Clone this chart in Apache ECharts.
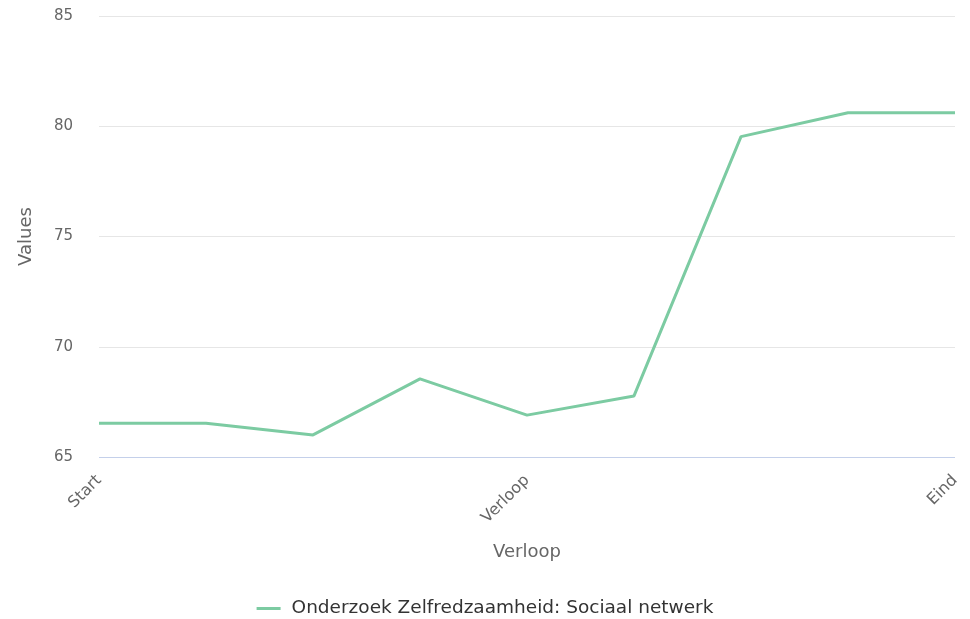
<!DOCTYPE html>
<html>
<head>
<meta charset="utf-8">
<script src="https://cdn.jsdelivr.net/npm/echarts@6/dist/echarts.min.js"></script>
<style>
    html, body {margin: 0; padding: 0; background: #fff;}
    #chart {width: 970px; height: 619px;}
</style>
</head>
<body>
<div id="chart"></div>
<script>
const categories = ['Start', '', '', '', 'Verloop', '', '', '', 'Eind'];
const series_name = 'Onderzoek Zelfredzaamheid: Sociaal netwerk';
const series_values = [66.53, 66.53, 66.0, 68.54, 66.9, 67.77, 79.53, 80.61, 80.61];
const y_ticks = {min: 65, max: 85, interval: 5};

const font = "'DejaVu Sans', Verdana, sans-serif";

let option = {
    animation: false,
    grid: {left: 99, right: 15, top: 16, bottom: 162},
    legend: {
        top: 594, left: 'center',
        icon: 'path://M0,0 L24,0 L24,3 L0,3 Z',
        itemWidth: 26, itemHeight: 3, itemGap: 8,
        textStyle: {fontFamily: font, fontSize: 18.5, color: '#333', padding: [0, 0, 0, 5]},
        data: [series_name]
    },
    xAxis: {
        type: 'category', data: categories, boundaryGap: false,
        name: 'Verloop', nameLocation: 'middle', nameGap: 86,
        nameTextStyle: {fontFamily: font, fontSize: 18, color: '#666'},
        axisLine: {show: false},
        axisTick: {show: false},
        axisLabel: {
            interval: 0, rotate: 45, margin: 21,
            fontFamily: font, fontSize: 16, color: '#666'
        },
        splitLine: {show: false}
    },
    yAxis: {
        type: 'value', min: y_ticks.min, max: y_ticks.max, interval: y_ticks.interval,
        name: 'Values', nameLocation: 'middle', nameGap: 64,
        nameTextStyle: {fontFamily: font, fontSize: 18, color: '#666'},
        axisLine: {show: false}, axisTick: {show: false},
        axisLabel: {margin: 26, fontFamily: font, fontSize: 15, color: '#666'},
        splitLine: {lineStyle: {color: ['#c4d0ea', '#e6e6e6', '#e6e6e6', '#e6e6e6', '#e6e6e6'], width: 1}}
    },
    series: [{
        name: series_name, type: 'line', data: series_values,
        symbol: 'none', smooth: false,
        lineStyle: {color: '#7ccba2', width: 3},
        itemStyle: {color: '#7ccba2'}
    }]
};

let my_chart = echarts.init(document.getElementById('chart'));
my_chart.setOption(option);
</script>
</body>
</html>
